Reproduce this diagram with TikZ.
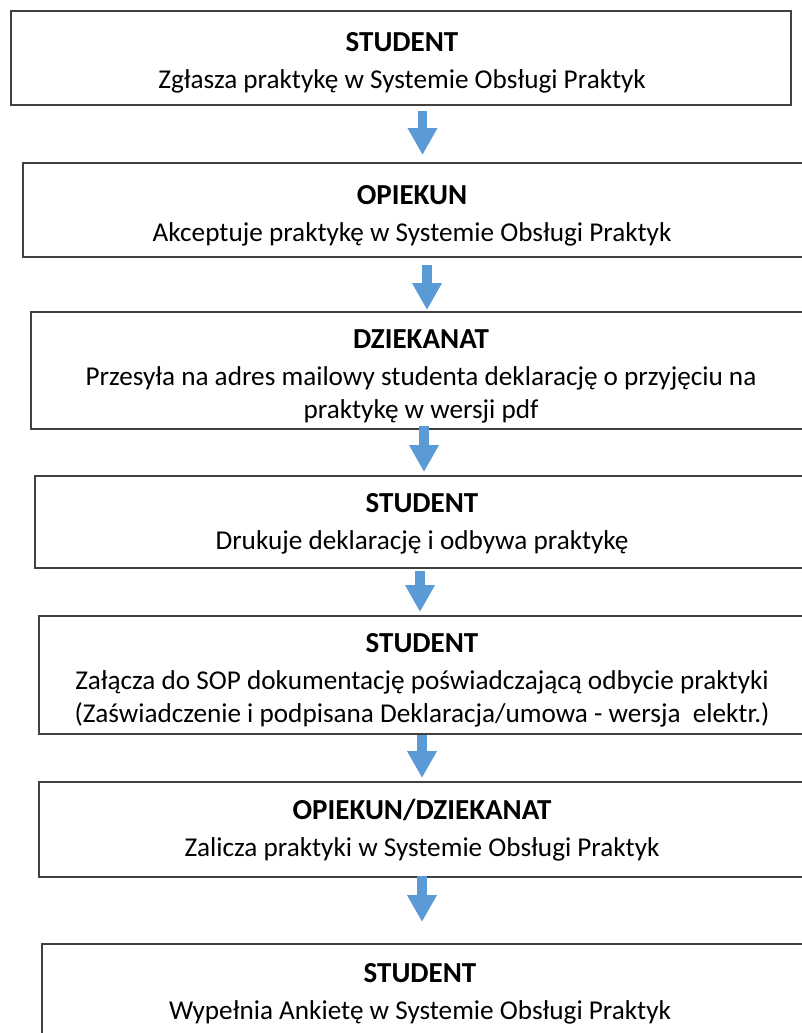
\documentclass[tikz,border=0pt]{standalone}
\usepackage{fontspec}
\setmainfont{Carlito}
\usetikzlibrary{arrows.meta}
\definecolor{arrowblue}{HTML}{5B9BD5}
\definecolor{boxline}{HTML}{404040}
\tikzset{
  stepbox/.style={draw=boxline, line width=2pt, rectangle, inner sep=0pt},
  steptext/.style={inner sep=0pt, align=center, font=\fontsize{27.2}{33}\selectfont},
  flowarrow/.style={draw=arrowblue, line width=9.5pt, -{Triangle[width=28pt,length=27pt]}},
}
\newcommand{\ttl}[1]{{\fontsize{29}{33}\selectfont\bfseries #1}}
\begin{document}
\begin{tikzpicture}[x=1pt,y=-1pt]
\useasboundingbox (0,0) rectangle (801,1033);
\node[stepbox, minimum width=780pt, minimum height=94pt] (b1) at (401,58) {};
\node[stepbox, minimum width=850pt, minimum height=94pt] (b2) at (448,210) {};
\node[stepbox, minimum width=850pt, minimum height=117pt] (b3) at (456,370.5) {};
\node[stepbox, minimum width=850pt, minimum height=92pt] (b4) at (460,522) {};
\node[stepbox, minimum width=850pt, minimum height=118pt] (b5) at (464,675) {};
\node[stepbox, minimum width=850pt, minimum height=95pt] (b6) at (464,829.5) {};
\node[stepbox, minimum width=850pt, minimum height=100pt] (b7) at (467,994) {};
\node[steptext] (t1) at (402,63) {\ttl{STUDENT}\\[4pt]Zgłasza praktykę w Systemie Obsługi Praktyk};
\node[steptext] (t2) at (412,215.5) {\ttl{OPIEKUN}\\[4pt]Akceptuje praktykę w Systemie Obsługi Praktyk};
\node[steptext] (t3) at (421,376) {\ttl{DZIEKANAT}\\[4pt]Przesyła na adres mailowy studenta deklarację o przyjęciu na\\praktykę w wersji pdf};
\node[steptext] (t4) at (422,524) {\ttl{STUDENT}\\[4pt]Drukuje deklarację i odbywa praktykę};
\node[steptext] (t5) at (422,680) {\ttl{STUDENT}\\[4pt]Załącza do SOP dokumentację poświadczającą odbycie praktyki\\(Zaświadczenie i podpisana Deklaracja/umowa - wersja\ \ elektr.)};
\node[steptext] (t6) at (422,830) {\ttl{OPIEKUN/DZIEKANAT}\\[4pt]Zalicza praktyki w Systemie Obsługi Praktyk};
\node[steptext] (t7) at (420,994) {\ttl{STUDENT}\\[4pt]Wypełnia Ankietę w Systemie Obsługi Praktyk};
\coordinate (a1s) at (422.5,111); \coordinate (a1e) at (422.5,155);
\coordinate (a2s) at (427,265); \coordinate (a2e) at (427,310);
\coordinate (a3s) at (424,426); \coordinate (a3e) at (424,472);
\coordinate (a4s) at (420,571); \coordinate (a4e) at (420,612);
\coordinate (a5s) at (422,735); \coordinate (a5e) at (422,778);
\coordinate (a6s) at (422,876); \coordinate (a6e) at (422,922);
\foreach \i in {1,...,6} \draw[flowarrow] (a\i s) -- (a\i e);
\end{tikzpicture}
\end{document}
